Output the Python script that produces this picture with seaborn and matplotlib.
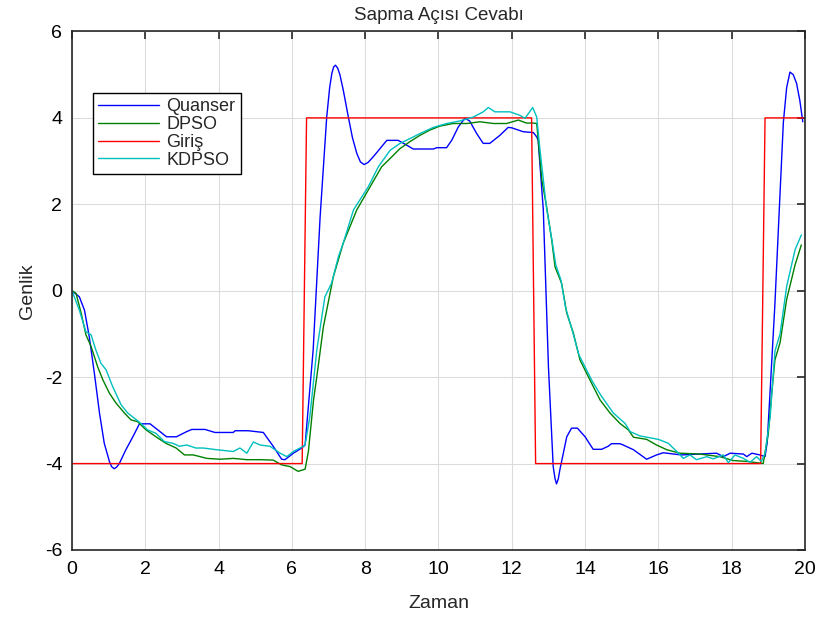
import numpy as np
import pandas as pd
import matplotlib
matplotlib.use("Agg")
import matplotlib.pyplot as plt
import seaborn as sns

# ---------------- data ----------------
t_input = [0, 6.28, 6.40, 12.54, 12.65, 18.79, 18.91, 19.95]
y_input = [-4, -4, 4, 4, -4, -4, 4, 4]

t_quanser = [0, 0.2, 0.34, 0.47, 0.61, 0.75, 0.88, 1.02, 1.08, 1.15, 1.22, 1.29, 1.47,
             1.66, 1.84, 2.13, 2.4, 2.58, 2.85, 3.13, 3.27, 3.63, 3.9, 4.4, 4.45, 4.81,
             5.22, 5.49, 5.72, 5.81, 6.04, 6.27, 6.36, 6.58, 6.77, 6.95, 7.03, 7.09, 7.14,
             7.19, 7.25, 7.31, 7.4, 7.54, 7.65, 7.77, 7.87, 7.97, 8.08, 8.22, 8.59, 8.9,
             9.13, 9.31, 9.86, 9.95, 10.22, 10.36, 10.54, 10.72, 10.85, 11.04, 11.22, 11.4,
             11.68, 11.9, 12.0, 12.31, 12.59, 12.68, 12.72, 12.86, 13.0, 13.13, 13.18,
             13.22, 13.27, 13.31, 13.5, 13.63, 13.79, 14.0, 14.22, 14.45, 14.63, 14.72,
             14.95, 15.04, 15.32, 15.68, 15.95, 16.13, 16.63, 17.1, 17.59, 17.77, 17.96,
             18.32, 18.41, 18.55, 18.77, 18.91, 18.97, 19.05, 19.18, 19.3, 19.41, 19.5,
             19.59, 19.68, 19.77, 19.86, 19.94]
y_quanser = [0, -0.14, -0.45, -1.06, -1.91, -2.83, -3.53, -3.95, -4.07, -4.12, -4.08,
             -4.0, -3.68, -3.38, -3.08, -3.08, -3.26, -3.38, -3.38, -3.26, -3.21, -3.21,
             -3.28, -3.28, -3.24, -3.24, -3.28, -3.6, -3.9, -3.91, -3.76, -3.64, -3.57,
             -1.37, 1.71, 4.02, 4.7, 5.03, 5.18, 5.22, 5.15, 5.0, 4.65, 4.02, 3.55, 3.18,
             2.98, 2.92, 2.97, 3.1, 3.48, 3.48, 3.37, 3.28, 3.28, 3.31, 3.31, 3.48, 3.79,
             3.99, 3.93, 3.64, 3.41, 3.41, 3.6, 3.78, 3.77, 3.68, 3.66, 3.56, 3.48, 1.87,
             -1.76, -4.07, -4.35, -4.47, -4.35, -4.15, -3.38, -3.18, -3.18, -3.38, -3.67,
             -3.67, -3.6, -3.54, -3.54, -3.57, -3.68, -3.9, -3.8, -3.75, -3.8, -3.78, -3.76,
             -3.84, -3.76, -3.78, -3.84, -3.76, -3.8, -3.84, -3.5, -2.3, -0.3, 1.9, 3.9,
             4.7, 5.06, 5.0, 4.8, 4.4, 3.91]

t_dpso = [0, 0.11, 0.25, 0.38, 0.52, 0.7, 0.84, 1.02, 1.2, 1.43, 1.61, 1.79, 2.02, 2.29,
          2.56, 2.84, 3.07, 3.31, 3.68, 4.04, 4.4, 4.77, 5.13, 5.49, 5.72, 5.95, 6.17,
          6.36, 6.45, 6.59, 6.68, 6.86, 7.13, 7.4, 7.77, 8.13, 8.45, 8.68, 8.95, 9.22,
          9.5, 9.77, 10.04, 10.4, 10.77, 11.13, 11.5, 11.86, 12.18, 12.4, 12.59, 12.68,
          12.82, 12.95, 13.09, 13.18, 13.36, 13.5, 13.68, 13.86, 14.13, 14.41, 14.68,
          14.95, 15.18, 15.32, 15.68, 15.95, 16.23, 16.59, 17.13, 17.68, 18.04, 18.41,
          18.77, 18.86, 19.0, 19.09, 19.18, 19.32, 19.5, 19.73, 19.9]
y_dpso = [0, -0.06, -0.52, -1.02, -1.29, -1.76, -2.06, -2.37, -2.6, -2.83, -2.99, -3.03,
          -3.22, -3.38, -3.53, -3.64, -3.8, -3.8, -3.88, -3.9, -3.88, -3.91, -3.91, -3.92,
          -4.03, -4.07, -4.18, -4.13, -3.72, -2.53, -1.99, -0.83, 0.32, 1.1, 1.87, 2.4,
          2.87, 3.06, 3.29, 3.45, 3.6, 3.72, 3.81, 3.87, 3.87, 3.91, 3.87, 3.87, 3.95,
          3.88, 3.88, 3.87, 2.56, 1.94, 1.17, 0.55, 0.17, -0.52, -0.98, -1.6, -2.06,
          -2.53, -2.83, -3.07, -3.22, -3.39, -3.44, -3.57, -3.68, -3.76, -3.78, -3.84,
          -3.93, -3.95, -3.99, -4.0, -3.3, -2.4, -1.6, -1.2, -0.2, 0.6, 1.06]

t_kdpso = [0, 0.2, 0.38, 0.52, 0.65, 0.79, 0.93, 1.11, 1.34, 1.52, 1.7, 1.88, 2.06, 2.29,
           2.52, 2.75, 2.93, 3.13, 3.38, 3.58, 3.95, 4.4, 4.58, 4.77, 4.95, 5.13, 5.4,
           5.68, 5.86, 6.04, 6.22, 6.36, 6.49, 6.68, 6.9, 7.08, 7.27, 7.4, 7.68, 8.08,
           8.36, 8.68, 8.95, 9.22, 9.5, 9.86, 10.22, 10.59, 10.95, 11.22, 11.36, 11.54,
           11.95, 12.22, 12.36, 12.57, 12.68, 12.77, 12.95, 13.09, 13.2, 13.34, 13.47,
           13.65, 13.83, 14.02, 14.2, 14.43, 14.77, 15.09, 15.23, 15.5, 16.0, 16.27, 16.5,
           16.68, 16.86, 17.04, 17.32, 17.5, 17.77, 17.91, 18.09, 18.32, 18.5, 18.68,
           18.81, 18.91, 19.05, 19.18, 19.32, 19.5, 19.73, 19.9]
y_kdpso = [0, -0.45, -0.95, -1.02, -1.37, -1.68, -1.83, -2.22, -2.64, -2.83, -2.95, -3.07,
           -3.22, -3.3, -3.49, -3.53, -3.6, -3.57, -3.64, -3.64, -3.68, -3.72, -3.64, -3.76,
           -3.5, -3.57, -3.6, -3.76, -3.84, -3.72, -3.64, -3.57, -2.91, -1.37, -0.14, 0.17,
           0.79, 1.1, 1.87, 2.4, 2.87, 3.25, 3.41, 3.52, 3.64, 3.78, 3.87, 3.93, 4.02, 4.14,
           4.24, 4.14, 4.14, 4.06, 3.99, 4.24, 4.02, 3.25, 1.9, 1.2, 0.6, 0.25, -0.4, -0.92,
           -1.48, -1.8, -2.1, -2.42, -2.83, -3.07, -3.26, -3.36, -3.44, -3.53, -3.72, -3.88,
           -3.8, -3.91, -3.84, -3.89, -3.8, -3.98, -3.8, -3.88, -3.97, -3.84, -3.95, -3.76,
           -2.91, -1.4, -1.0, 0.1, 0.95, 1.29]

x_ticks = [0, 2, 4, 6, 8, 10, 12, 14, 16, 18, 20]
y_ticks = [-6, -4, -2, 0, 2, 4, 6]

# ---------------- style ----------------
sns.set_style("white")
plt.rcParams['font.family'] = ['Liberation Sans', 'DejaVu Sans']
plt.rcParams['axes.unicode_minus'] = False

fig = plt.figure(figsize=(8.22, 6.17), dpi=100)
ax = fig.add_axes([0.0876, 0.1086, 0.8917, 0.8404])

series = [
    ("Quanser", t_quanser, y_quanser, "#0000FF"),
    ("DPSO", t_dpso, y_dpso, "#008000"),
    ("Giriş", t_input, y_input, "#FF0000"),
    ("KDPSO", t_kdpso, y_kdpso, "#00BFBF"),
]
for name, t, y, c in series:
    df = pd.DataFrame({"t": t, "y": y})
    sns.lineplot(data=df, x="t", y="y", ax=ax, color=c, linewidth=1.0,
                 label=name, sort=False, estimator=None)

ax.set_xlim(0, 20)
ax.set_ylim(-6, 6)
ax.set_xticks(x_ticks)
ax.set_yticks(y_ticks)
ax.grid(True, color="#dcdcdc", linewidth=0.8)
ax.set_axisbelow(True)
for s in ax.spines.values():
    s.set_visible(True)
    s.set_color("#262626")
    s.set_linewidth(1.2)
ax.tick_params(direction="in", top=True, right=True, length=6, width=1.2,
               labelsize=14, colors="#262626", labelcolor="black")
ax.tick_params(axis="x", pad=8)
ax.tick_params(axis="y", pad=7)

ax.set_title("Sapma Açısı Cevabı", fontsize=13.5, pad=8)
ax.set_xlabel("Zaman", fontsize=14, labelpad=12)
ax.set_ylabel("Genlik", fontsize=14, labelpad=6)

leg = ax.legend(loc="upper left", bbox_to_anchor=(0.028, 0.882), borderaxespad=0,
                fontsize=13, handlelength=3.4, labelspacing=0.05, fancybox=False,
                framealpha=1, edgecolor="black", borderpad=0.3, handletextpad=0.4)
leg.get_frame().set_linewidth(1.0)

fig.savefig("out.png", dpi=100)
